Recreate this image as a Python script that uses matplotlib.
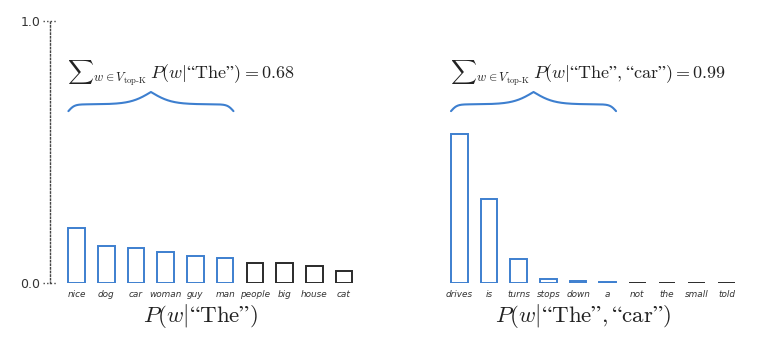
import numpy as np
import matplotlib
matplotlib.use("Agg")
import matplotlib.pyplot as plt
from matplotlib.transforms import blended_transform_factory

plt.rcParams['mathtext.fontset'] = 'cm'

# ---- data ----
words_left = ["nice", "dog", "car", "woman", "guy", "man", "people", "big", "house", "cat"]
probs_left = [0.21, 0.143, 0.134, 0.118, 0.103, 0.095, 0.076, 0.076, 0.065, 0.046]
topk_left = 6

words_right = ["drives", "is", "turns", "stops", "down", "a", "not", "the", "small", "told"]
probs_right = [0.569, 0.322, 0.090, 0.016, 0.006, 0.002, 0.001, 0.001, 0.001, 0.001]
topk_right = 6

sum_left = r"${\sum}_{w\in V_{\mathrm{top\text{-}K}}}\, P(w|\mathrm{“The”}) = 0.68$"
sum_right = r"${\sum}_{w\in V_{\mathrm{top\text{-}K}}}\, P(w|\mathrm{“The”, “car”}) = 0.99$"
xlabel_left = r"$P(w|\mathrm{“The”})$"
xlabel_right = r"$P(w|\mathrm{“The”, “car”})$"

yticks = [0.0, 1.0]
ytick_labels = ["0.0", "1.0"]

BLUE = "#3d7fcf"
DARK = "#2a2a2a"

W, H = 774, 341
fig = plt.figure(figsize=(W / 100, H / 100), dpi=100)


def px_axes(left, right, top, bottom):
    return fig.add_axes([left / W, 1 - bottom / H, (right - left) / W, (bottom - top) / H])


def brace(ax, xmin, xmax, ybase, height, color):
    res = 401
    x = np.linspace(xmin, xmax, res)
    half = x[: res // 2 + 1]
    span = xmax - xmin
    b1 = 55.0 / span
    b2 = 16.0 / span
    yh = 0.55 / (1 + np.exp(-b1 * (half - half[0]))) + 1.0 / (1 + np.exp(-b2 * (half - half[-1])))
    yh = yh - yh[0]
    yh = yh / yh[-1]
    y = np.concatenate((yh, yh[-2::-1]))
    ax.plot(x, ybase + height * y, color=color, lw=1.5, clip_on=False, solid_capstyle='round')


def panel(ax, words, probs, k, sumtext, xlabel, show_y):
    xs = np.arange(len(words))
    colors = [BLUE if i < k else DARK for i in range(len(words))]
    ax.bar(xs, probs, width=0.56, facecolor="white", edgecolor=colors, linewidth=1.4)
    ax.set_xlim(-0.9, 9.88)
    ax.set_ylim(0, 1)
    ax.set_xticks(xs)
    ax.set_xticklabels(words, fontsize=6.4, style="italic", color="#333333")
    ax.tick_params(axis="x", length=0, pad=5)
    for s in ["top", "right", "bottom"]:
        ax.spines[s].set_visible(False)
    if show_y:
        ax.spines["left"].set_linestyle((0, (1.0, 1.6)))
        ax.spines["left"].set_color("#444444")
        ax.spines["left"].set_linewidth(1.0)
        ax.set_yticks(yticks)
        ax.set_yticklabels(ytick_labels, fontsize=9, color="#333333")
        ax.tick_params(axis="y", length=0, pad=7)
        tr = blended_transform_factory(ax.transAxes, ax.transData)
        for yv in yticks:
            ax.plot([-0.022, 0.022], [yv, yv], transform=tr, color="#444444", lw=1.0,
                    linestyle=(0, (1.0, 1.6)), clip_on=False)
    else:
        ax.spines["left"].set_visible(False)
        ax.set_yticks([])
    # brace spanning top-k bars
    bw = 0.56
    brace(ax, xs[0] - bw / 2, xs[k - 1] + bw / 2, 0.656, 0.073, BLUE)
    ax.text(xs[0] - bw / 2 - 0.05, 0.80, sumtext, fontsize=13, ha="left", va="center", color="#222222")
    ax.text((xs[0] + xs[-1]) / 2 - 0.35, -0.125, xlabel, fontsize=16.5, ha="center", va="center",
            color="#222222", transform=ax.transData, clip_on=False)


axL = px_axes(50, 370, 21, 283)
axR = px_axes(432.6, 752.6, 21, 283)
panel(axL, words_left, probs_left, topk_left, sum_left, xlabel_left, True)
panel(axR, words_right, probs_right, topk_right, sum_right, xlabel_right, False)

fig.savefig("out.png", dpi=100)
